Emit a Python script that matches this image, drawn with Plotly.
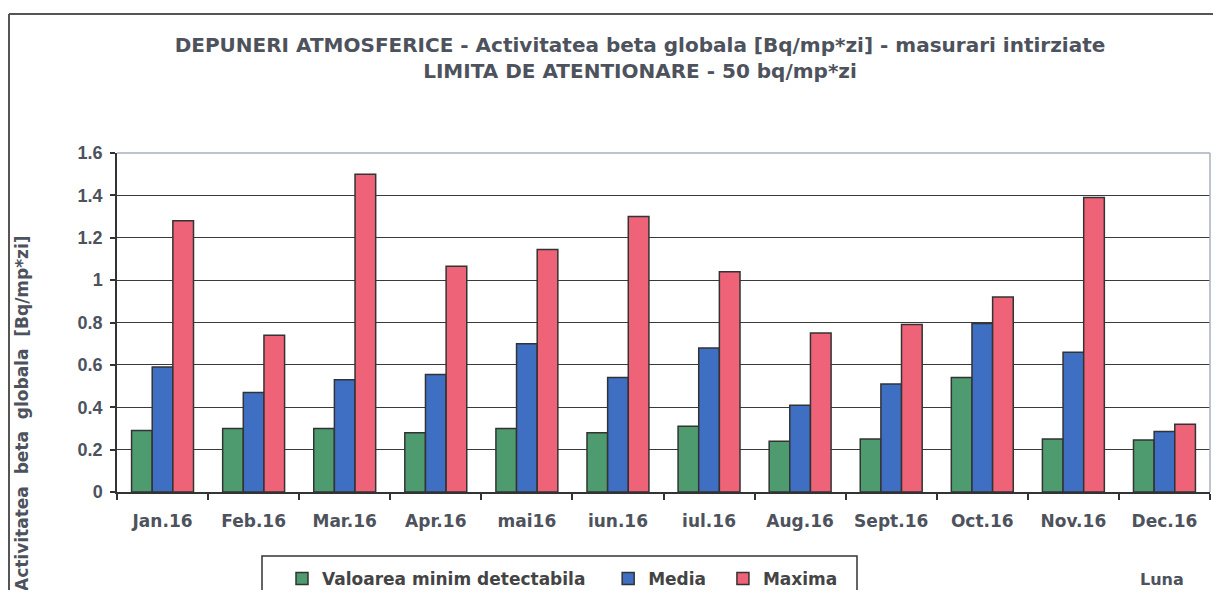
import plotly.graph_objects as go

months = ["Jan.16", "Feb.16", "Mar.16", "Apr.16", "mai16", "iun.16", "iul.16",
          "Aug.16", "Sept.16", "Oct.16", "Nov.16", "Dec.16"]
minim = [0.29, 0.30, 0.30, 0.28, 0.30, 0.28, 0.31, 0.24, 0.25, 0.54, 0.25, 0.245]
media = [0.59, 0.47, 0.53, 0.555, 0.70, 0.54, 0.68, 0.41, 0.51, 0.795, 0.66, 0.285]
maxima = [1.28, 0.74, 1.50, 1.065, 1.145, 1.30, 1.04, 0.75, 0.79, 0.92, 1.39, 0.32]
yticks = [0, 0.2, 0.4, 0.6, 0.8, 1, 1.2, 1.4, 1.6]
ytick_text = ["0", "0.2", "0.4", "0.6", "0.8", "1", "1.2", "1.4", "1.6"]

NB = "\u00a0"
series = [
    ("Valoarea minim detectabila" + NB * 3, minim, "#4f9b70"),
    ("Media" + NB * 2, media, "#3f6fc3"),
    ("Maxima", maxima, "#ee6378"),
]

# page body has an 8px margin: figure origin sits at screen (8, 8)
OFF = 8
W, H = 1221 - 2 * OFF, 598 - 2 * OFF
PL, PR, PT, PB = 117, 1210, 153, 492  # plot area in screen pixels
L, T = PL - OFF, PT - OFF
R = (OFF + W) - PR
B = (OFF + H) - PB
pw, ph = PR - PL, PB - PT

def px(x):
    return (x - PL) / pw

def py(y):
    return (PB - y) / ph

fig = go.Figure()
for name, vals, col in series:
    fig.add_trace(go.Bar(x=months, y=vals, name=name, marker_color=col,
                         marker_line_color="#333333", marker_line_width=1.5))

wide = "DejaVu Sans, Verdana, sans-serif"
arial = "Liberation Sans, Arial, sans-serif"
txtcol = "#4d525c"

fig.update_layout(
    width=W, height=H,
    margin=dict(l=L, r=R, t=T, b=B, autoexpand=False),
    paper_bgcolor="white", plot_bgcolor="white",
    barmode="group", bargap=0.32, bargroupgap=0,
    title=dict(
        text="<b>DEPUNERI ATMOSFERICE - Activitatea beta globala [Bq/mp*zi] - masurari intirziate<br>LIMITA DE ATENTIONARE - 50 bq/mp*zi</b>",
        x=(640 - OFF) / W, xanchor="center", y=1 - (52 - OFF) / H, yanchor="middle",
        font=dict(family=wide, size=20, color=txtcol),
    ),
    showlegend=True,
    legend=dict(orientation="h", x=px(282), xanchor="left", y=py(579), yanchor="middle",
                bgcolor="rgba(0,0,0,0)", borderwidth=0,
                font=dict(family=wide, size=17, color="#444444", weight="bold"),
                traceorder="normal"),
    xaxis=dict(
        showline=True, linecolor="#333333", linewidth=1.5,
        ticks="outside", tickson="boundaries", ticklen=6, tickcolor="#333333", tickwidth=1.5,
        ticklabelstandoff=13,
        tickfont=dict(family=wide, size=17, color=txtcol, weight="bold"),
        showgrid=False,
    ),
    yaxis=dict(
        range=[0, 1.6], tickvals=yticks, ticktext=ytick_text,
        showline=True, linecolor="#333333", linewidth=1.5,
        ticks="outside", ticklen=5, tickcolor="#333333", tickwidth=1.5,
        ticklabelstandoff=4,
        tickfont=dict(family=arial, size=18, color=txtcol, weight="bold"),
        showgrid=True, gridcolor="#3a3a3a", gridwidth=1.3,
        zeroline=False,
    ),
    shapes=[
        dict(type="line", xref="paper", yref="paper", x0=0, x1=1, y0=1, y1=1,
             line=dict(color="#a9b1bc", width=1.5), layer="above"),
        dict(type="line", xref="paper", yref="paper", x0=1, x1=1, y0=0, y1=1,
             line=dict(color="#a9b1bc", width=1.5), layer="above"),
        dict(type="line", xref="paper", yref="paper", x0=px(9), x1=px(1225), y0=py(14), y1=py(14),
             line=dict(color="#555555", width=2)),
        dict(type="line", xref="paper", yref="paper", x0=px(9), x1=px(9), y0=py(14), y1=py(610),
             line=dict(color="#555555", width=2)),
        dict(type="rect", xref="paper", yref="paper", x0=px(262), x1=px(857), y0=py(615), y1=py(556),
             line=dict(color="#333333", width=1.5), fillcolor="rgba(0,0,0,0)"),
    ],
    annotations=[
        dict(text="<b>Activitatea  beta  globala  [Bq/mp*zi]</b>", textangle=-90,
             xref="paper", yref="paper", x=px(22), y=py(413), xanchor="center", yanchor="middle",
             showarrow=False, font=dict(family=wide, size=17, color=txtcol)),
        dict(text="<b>Luna</b>", xref="paper", yref="paper", x=px(1162), y=py(579),
             xanchor="center", yanchor="middle", showarrow=False,
             font=dict(family=wide, size=16, color=txtcol)),
    ],
)

fig.write_html("out.html")
